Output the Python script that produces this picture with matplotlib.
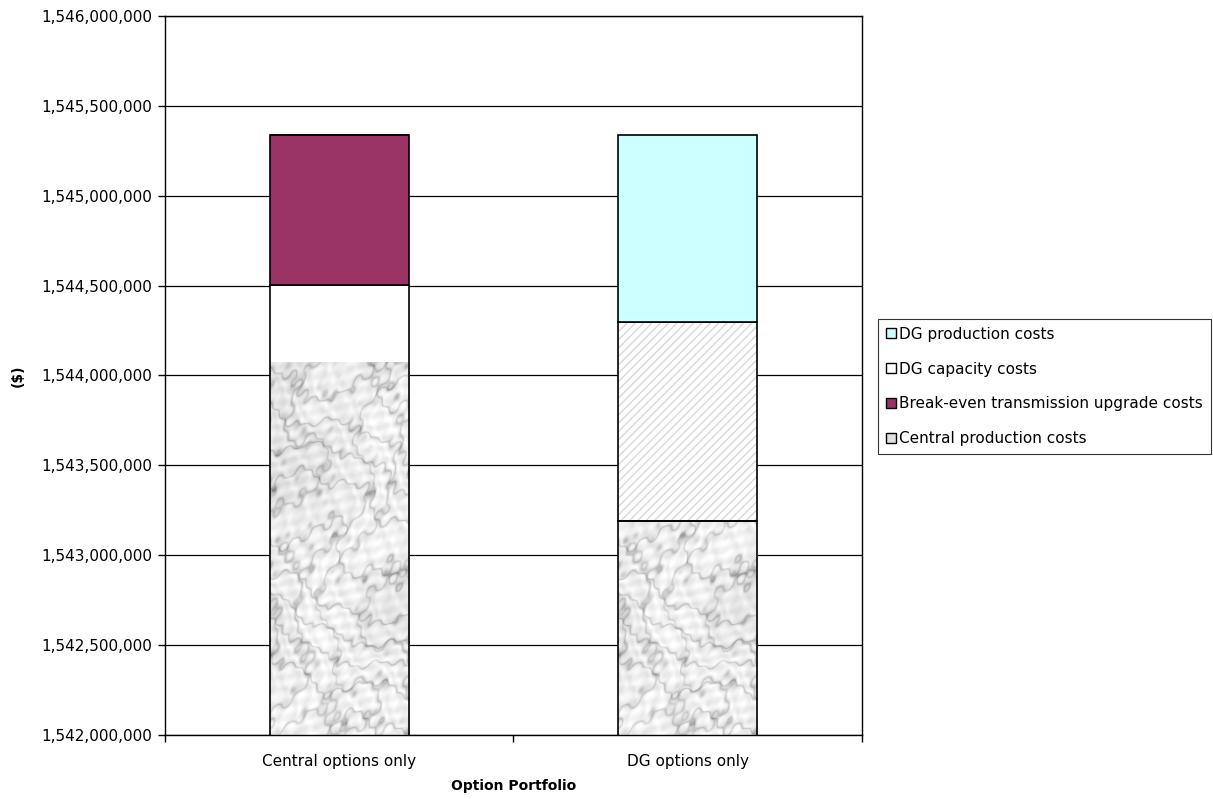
import numpy as np
import matplotlib

matplotlib.use("Agg")
import matplotlib.pyplot as plt
from matplotlib.patches import Patch
from matplotlib.ticker import FuncFormatter, FixedLocator

categories = ["Central options only", "DG options only"]
central_production = [1544503500, 1543190500]
dg_capacity = [0, 1107100]
breakeven_transmission = [834500, 0]
dg_production = [0, 1040400]

y_min, y_max = 1542000000, 1546000000
y_ticks = list(range(y_min, y_max + 1, 500000))
texture_top = 1544070000  # marble texture tile ends here


def marble_texture(h=420, w=160):
    # deterministic marble-like texture for the central production fill
    yy, xx = np.mgrid[0:h, 0:w].astype(float)
    turb = (np.sin(xx * 0.031 + yy * 0.017) * 1.1
            + np.sin(xx * 0.013 - yy * 0.027 + 1.3) * 1.6
            + np.sin(xx * 0.071 + yy * 0.053 + 2.1) * 0.6
            + np.sin(xx * 0.19 - yy * 0.13 + 0.7) * 0.35
            + np.sin(xx * 0.41 + yy * 0.33 + 1.9) * 0.2
            + np.sin(yy * 0.011 + 0.4) * 1.8)
    v = np.abs(np.sin((xx * 0.05 + yy * 0.03) + 1.2 * turb))
    veins = (1 - v) ** 4
    v2 = np.abs(np.sin((xx * 0.02 - yy * 0.06) + 1.0 * turb + 0.8))
    veins2 = (1 - v2) ** 7
    mottle = (np.sin(xx * 0.23 + yy * 0.19 + turb) * np.sin(xx * 0.17 - yy * 0.26 + 2 * turb))
    shade = 0.5 + 0.5 * np.sin(xx * 0.02 + yy * 0.012 + turb * 0.5)
    img = 0.96 - 0.06 * shade - 0.2 * veins - 0.22 * veins2 - 0.05 * mottle
    return np.clip(img, 0.45, 1.0)


fig = plt.figure(figsize=(12.13, 7.99), dpi=100)
ax = fig.add_axes([0.136, 0.0801, 0.5746, 0.8999])

x = np.arange(len(categories))
width = 0.4
edge_kw = dict(edgecolor="black", linewidth=1.2)

base = np.array(central_production, dtype=float)
cp_bars = ax.bar(x, base, width, color="white", linewidth=0, zorder=1.5)
tex = marble_texture()
for bar in cp_bars:
    x0 = bar.get_x()
    im = ax.imshow(tex, cmap="gray", vmin=0, vmax=1, aspect="auto",
                   extent=(x0, x0 + width, y_min, texture_top),
                   interpolation="bilinear", zorder=2)
    im.set_clip_path(bar)
ax.bar(x, base, width, fill=False, zorder=3, **edge_kw)

bottom = base.copy()
ax.bar(x, dg_capacity, width, bottom=bottom, color="white", edgecolor="#d8d8d8",
       hatch="////", linewidth=0, zorder=2)
ax.bar(x, dg_capacity, width, bottom=bottom, fill=False, zorder=3, **edge_kw)
bottom += np.array(dg_capacity)
ax.bar(x, breakeven_transmission, width, bottom=bottom, color="#993366", zorder=3, **edge_kw)
bottom += np.array(breakeven_transmission)
ax.bar(x, dg_production, width, bottom=bottom, color="#ccffff", zorder=3, **edge_kw)

ax.set_ylim(y_min, y_max)
ax.set_xlim(-0.5, 1.5)
ax.set_yticks(y_ticks)
ax.yaxis.set_major_formatter(FuncFormatter(lambda v, p: f"{v:,.0f}"))
ax.grid(axis="y", color="black", linewidth=0.9, zorder=0)
ax.set_axisbelow(True)

ax.xaxis.set_major_locator(FixedLocator([-0.5, 0.5, 1.5]))
ax.xaxis.set_major_formatter(FuncFormatter(lambda v, p: ""))
ax.xaxis.set_minor_locator(FixedLocator(x))
ax.set_xticklabels(categories, minor=True)
ax.tick_params(axis="x", which="minor", length=0, pad=14, labelsize=11)
ax.tick_params(axis="x", which="major", length=5, width=1, direction="out")
ax.tick_params(axis="y", length=5, width=1, direction="out", labelsize=11, pad=4)
for sp in ax.spines.values():
    sp.set_color("black")
    sp.set_linewidth(1.0)

ax.set_ylabel("($)", fontsize=10, fontweight="bold", labelpad=12)
ax.set_xlabel("Option Portfolio", fontsize=10, fontweight="bold", labelpad=7)

handles = [
    Patch(facecolor="#ccffff", edgecolor="black", label="DG production costs"),
    Patch(facecolor="white", edgecolor="black", label="DG capacity costs"),
    Patch(facecolor="#993366", edgecolor="black", label="Break-even transmission upgrade costs"),
    Patch(facecolor="#e0e0e0", edgecolor="black", label="Central production costs"),
]
leg = fig.legend(handles=handles, loc="upper left", bbox_to_anchor=(878 / 1213, 1 - 319 / 799),
                 frameon=True, fancybox=False, edgecolor="black", fontsize=11,
                 handlelength=0.65, handleheight=0.65, handletextpad=0.25,
                 labelspacing=1.3, borderpad=0.5, borderaxespad=0)
leg.get_frame().set_linewidth(0.8)

fig.savefig("out.png", dpi=100)
